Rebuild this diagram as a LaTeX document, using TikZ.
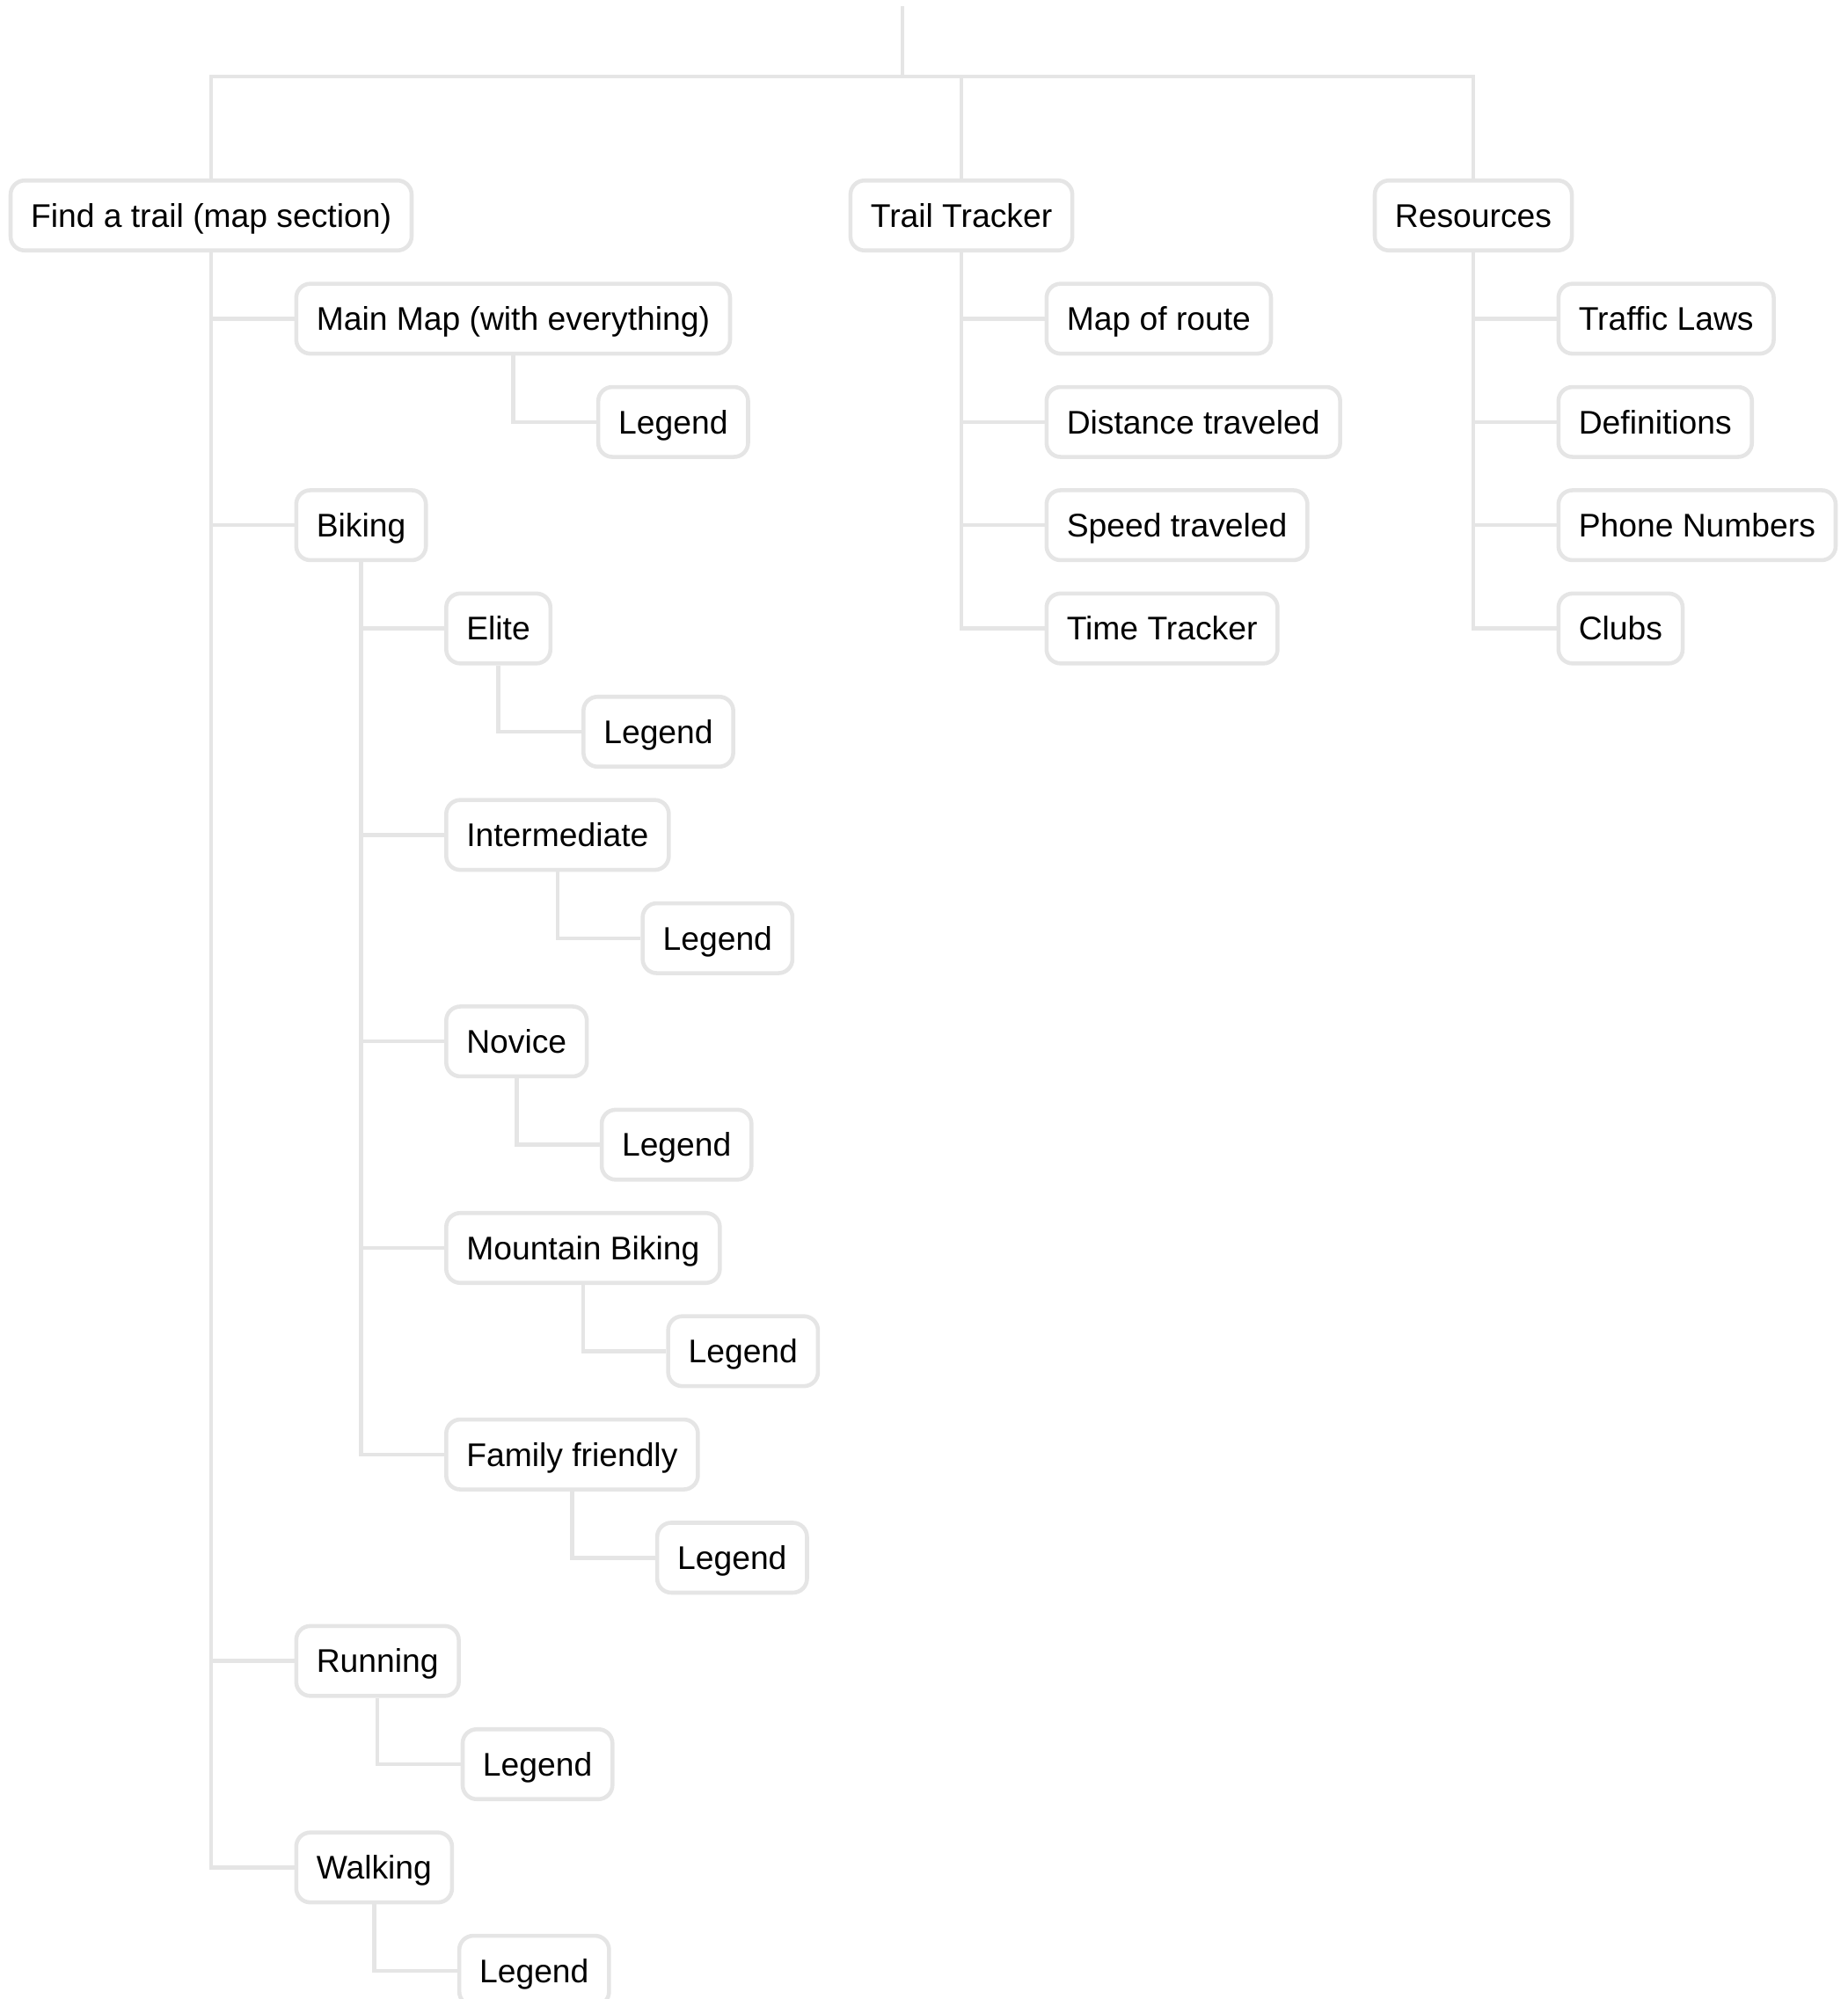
\documentclass[tikz,border=0pt]{standalone}
\usepackage{fontspec}
\setmainfont{Liberation Sans}
\usepackage{tikz}
\usetikzlibrary{positioning}
\definecolor{cLine}{HTML}{E5E5E5}
\newcommand{\rowstep}{11.74mm}
\tikzset{
  item/.style={rectangle, rounded corners=1.6mm, draw=cLine, line width=1.3pt,
               fill=white, text=black, font=\fontsize{10.6}{12.7}\selectfont,
               inner xsep=2.3mm, inner ysep=0pt, minimum height=7.95mm,
               text height=7.6pt, text depth=0pt},
  link/.style={draw=cLine, line width=1.3pt},
}
\begin{document}
\begin{tikzpicture}[node distance=11.74mm and 9.45mm]
  \useasboundingbox (0,0) rectangle (21,-22.73);
  \coordinate (root) at (10.26,-0.07);
  \coordinate (bus) at (10.26,-0.87);

  \node[item] (find) at (2.40,-2.45) {Find a trail (map section)};
  \node[item] (tracker) at (10.93,-2.45) {Trail Tracker};
  \node[item] (resources) at (16.75,-2.45) {Resources};

  \node[item, right=of find.center, yshift=-\rowstep] (mainmap) {Main Map (with everything)};
  \node[item, right=of mainmap.center, yshift=-\rowstep] (mainleg) {Legend};
  \node[item, right=of find.center, yshift=-3*\rowstep] (biking) {Biking};
  \node[item, right=of biking.center, yshift=-\rowstep] (elite) {Elite};
  \node[item, right=of elite.center, yshift=-\rowstep] (eliteleg) {Legend};
  \node[item, right=of biking.center, yshift=-3*\rowstep] (inter) {Intermediate};
  \node[item, right=of inter.center, yshift=-\rowstep] (interleg) {Legend};
  \node[item, right=of biking.center, yshift=-5*\rowstep] (novice) {Novice};
  \node[item, right=of novice.center, yshift=-\rowstep] (noviceleg) {Legend};
  \node[item, right=of biking.center, yshift=-7*\rowstep] (mtb) {Mountain Biking};
  \node[item, right=of mtb.center, yshift=-\rowstep] (mtbleg) {Legend};
  \node[item, right=of biking.center, yshift=-9*\rowstep] (family) {Family friendly};
  \node[item, right=of family.center, yshift=-\rowstep] (familyleg) {Legend};
  \node[item, right=of find.center, yshift=-14*\rowstep] (running) {Running};
  \node[item, right=of running.center, yshift=-\rowstep] (runleg) {Legend};
  \node[item, right=of find.center, yshift=-16*\rowstep] (walking) {Walking};
  \node[item, right=of walking.center, yshift=-\rowstep] (walkleg) {Legend};

  \node[item, right=of tracker.center, yshift=-\rowstep] (maproute) {Map of route};
  \node[item, right=of tracker.center, yshift=-2*\rowstep] (distance) {Distance traveled};
  \node[item, right=of tracker.center, yshift=-3*\rowstep] (speed) {Speed traveled};
  \node[item, right=of tracker.center, yshift=-4*\rowstep] (timetr) {Time Tracker};

  \node[item, right=of resources.center, yshift=-\rowstep] (traffic) {Traffic Laws};
  \node[item, right=of resources.center, yshift=-2*\rowstep] (defs) {Definitions};
  \node[item, right=of resources.center, yshift=-3*\rowstep] (phone) {Phone Numbers};
  \node[item, right=of resources.center, yshift=-4*\rowstep] (clubs) {Clubs};

  \draw[link] (root) -- (bus);
  \draw[link] (find.north) |- (bus) -| (resources.north);
  \draw[link] (tracker.north) -- (tracker.north |- bus);

  \draw[link] (find.south) |- (mainmap.west);
  \draw[link] (find.south) |- (biking.west);
  \draw[link] (find.south) |- (running.west);
  \draw[link] (find.south) |- (walking.west);
  \draw[link] (mainmap.south) |- (mainleg.west);
  \draw[link] (biking.south) |- (elite.west);
  \draw[link] (biking.south) |- (inter.west);
  \draw[link] (biking.south) |- (novice.west);
  \draw[link] (biking.south) |- (mtb.west);
  \draw[link] (biking.south) |- (family.west);
  \draw[link] (elite.south) |- (eliteleg.west);
  \draw[link] (inter.south) |- (interleg.west);
  \draw[link] (novice.south) |- (noviceleg.west);
  \draw[link] (mtb.south) |- (mtbleg.west);
  \draw[link] (family.south) |- (familyleg.west);
  \draw[link] (running.south) |- (runleg.west);
  \draw[link] (walking.south) |- (walkleg.west);

  \draw[link] (tracker.south) |- (maproute.west);
  \draw[link] (tracker.south) |- (distance.west);
  \draw[link] (tracker.south) |- (speed.west);
  \draw[link] (tracker.south) |- (timetr.west);

  \draw[link] (resources.south) |- (traffic.west);
  \draw[link] (resources.south) |- (defs.west);
  \draw[link] (resources.south) |- (phone.west);
  \draw[link] (resources.south) |- (clubs.west);
\end{tikzpicture}
\end{document}
